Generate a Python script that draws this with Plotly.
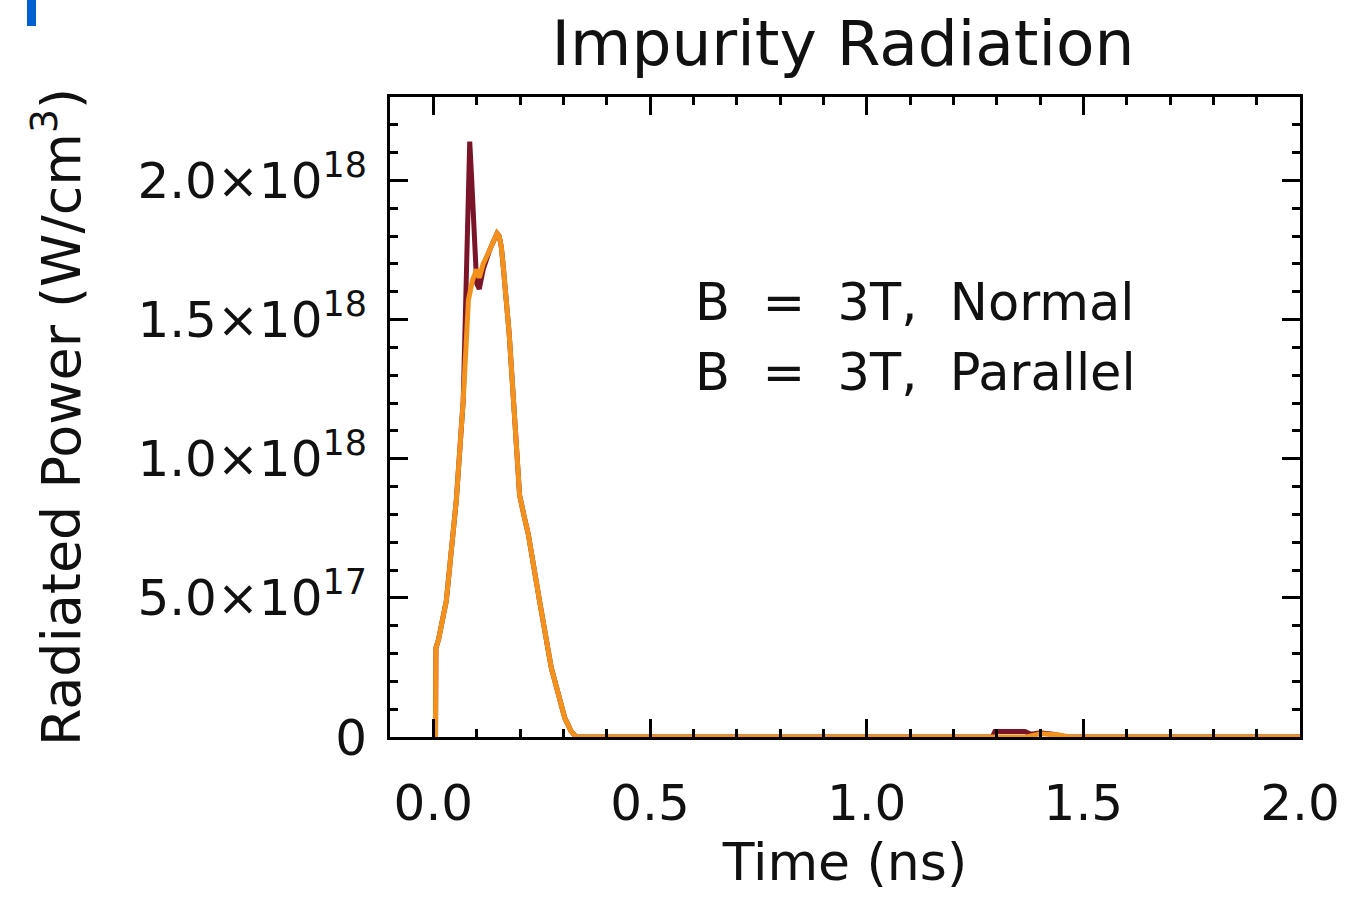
import plotly.graph_objects as go

# ---- data (power in units of 1e18 W/cm^3, time in ns) ----
t_normal = [0.000, 0.005, 0.006, 0.012, 0.030, 0.053, 0.069, 0.077, 0.081, 0.084, 0.088,
            0.094, 0.100, 0.106, 0.115, 0.130, 0.140, 0.147, 0.152, 0.157, 0.162, 0.168,
            0.175, 0.185, 0.199, 0.210, 0.219, 0.245, 0.272, 0.303, 0.318, 0.330, 0.400,
            1.290, 1.296, 1.365, 1.380, 1.400, 1.430, 1.460, 2.000]
p_normal = [0.00, 0.00, 0.32, 0.35, 0.49, 0.85, 1.21, 1.70, 2.05, 2.14, 2.02,
            1.78, 1.63, 1.61, 1.68, 1.75, 1.79, 1.81, 1.80, 1.76, 1.68, 1.57,
            1.45, 1.21, 0.87, 0.79, 0.73, 0.49, 0.25, 0.07, 0.02, 0.00, 0.00,
            0.00, 0.02, 0.02, 0.01, 0.015, 0.01, 0.00, 0.00]

t_parallel = [0.000, 0.005, 0.006, 0.012, 0.030, 0.053, 0.069, 0.081, 0.090, 0.100,
              0.106, 0.115, 0.130, 0.140, 0.147, 0.152, 0.157, 0.162, 0.168, 0.175,
              0.185, 0.199, 0.210, 0.219, 0.245, 0.272, 0.303, 0.318, 0.330, 0.400,
              1.370, 1.400, 1.440, 1.470, 2.000]
p_parallel = [0.00, 0.00, 0.32, 0.35, 0.49, 0.85, 1.21, 1.57, 1.64, 1.68,
              1.65, 1.70, 1.75, 1.79, 1.81, 1.80, 1.76, 1.68, 1.57, 1.45,
              1.21, 0.87, 0.79, 0.73, 0.49, 0.25, 0.07, 0.02, 0.00, 0.00,
              0.00, 0.012, 0.008, 0.00, 0.00]

x_tickvals = [0.0, 0.5, 1.0, 1.5, 2.0]
x_ticktext = ["0.0", "0.5", "1.0", "1.5", "2.0"]
y_tickvals = [0.0, 0.5, 1.0, 1.5, 2.0]
y_ticktext = ["0", "5.0×10<sup>17</sup>", "1.0×10<sup>18</sup>",
              "1.5×10<sup>18</sup>", "2.0×10<sup>18</sup>"]

legend_labels = ["B&nbsp;&nbsp;=&nbsp;&nbsp;3T,&nbsp;&nbsp;Normal",
                 "B&nbsp;&nbsp;=&nbsp;&nbsp;3T,&nbsp;&nbsp;Parallel"]
color_normal = "#7A1428"
color_parallel = "#F2921C"

FONT = "DejaVu Sans"

fig = go.Figure()
fig.add_trace(go.Scatter(x=t_normal, y=p_normal, mode="lines", name="B = 3T, Normal",
                         line=dict(color=color_normal, width=5), showlegend=False))
fig.add_trace(go.Scatter(x=t_parallel, y=p_parallel, mode="lines", name="B = 3T, Parallel",
                         line=dict(color=color_parallel, width=5), showlegend=False))

axis_common = dict(
    showline=True, linecolor="black", linewidth=3, mirror="allticks",
    ticks="inside", ticklen=18, tickwidth=3, tickcolor="black",
    showgrid=False, zeroline=False,
    tickfont=dict(family=FONT, size=50, color="#111111"),
)

fig.update_xaxes(
    range=[-0.1, 2.0], tickvals=x_tickvals, ticktext=x_ticktext,
    minor=dict(dtick=0.1, tick0=0, ticks="inside", ticklen=8, tickwidth=3, tickcolor="black"),
    title=dict(text="Time (ns)", font=dict(family=FONT, size=52, color="#111111"), standoff=12),
    ticklabelstandoff=20,
    **axis_common,
)
fig.update_yaxes(
    range=[0, 2.3], tickvals=y_tickvals, ticktext=y_ticktext,
    minor=dict(dtick=0.1, tick0=0, ticks="inside", ticklen=8, tickwidth=3, tickcolor="black"),
    title=dict(text="Radiated Power (W/cm<sup>3</sup>)",
               font=dict(family=FONT, size=54, color="#111111"), standoff=40),
    ticklabelstandoff=10,
    **axis_common,
)

for i, lab in enumerate(legend_labels):
    fig.add_annotation(xref="paper", yref="paper", x=(693 - 390) / 910,
                       y=(737 - (302 + 70 * i)) / 640, text=lab, showarrow=False,
                       xanchor="left", yanchor="middle",
                       font=dict(family=FONT, size=51, color="#111111"))

# small blue marker at the top-left corner of the page
fig.add_shape(type="rect", xref="paper", yref="paper",
              x0=(27 - 390) / 910, x1=(36 - 390) / 910,
              y0=(737 - 26) / 640, y1=(737 + 5) / 640 + 0.3,
              fillcolor="#0060D0", line=dict(width=0), layer="above")

fig.update_layout(
    width=1356, height=912,
    margin=dict(l=390, r=56, t=97, b=175),
    paper_bgcolor="white", plot_bgcolor="white",
    title=dict(text="Impurity Radiation", x=843 / 1356, xanchor="center",
               y=1 - 43 / 912, yanchor="middle",
               font=dict(family=FONT, size=63, color="#111111")),
)

fig.write_html("out.html")
